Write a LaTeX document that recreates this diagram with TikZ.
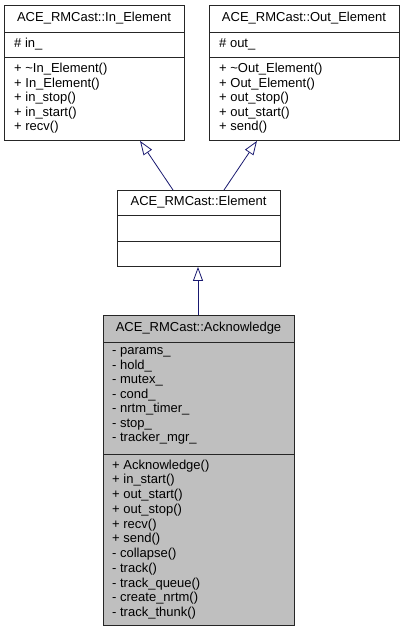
\documentclass[tikz,border=0pt]{standalone}
\usepackage{fontspec}
\setmainfont{Liberation Sans}
\usetikzlibrary{arrows.meta,calc}
\definecolor{edgeblue}{HTML}{191970}
\definecolor{ackgray}{HTML}{BFBFBF}
\begin{document}
\begin{tikzpicture}[x=1pt,y=-1pt,
  box/.style={draw=black!85,line width=0.9pt,anchor=north west,inner sep=0pt,rectangle},
  title/.style={font=\fontsize{13}{14.5}\selectfont,inner sep=0pt,anchor=center},
  memb/.style={font=\fontsize{13}{14.5}\selectfont,inner sep=0pt,anchor=west,align=left},
  divider/.style={draw=black!85,line width=0.9pt},
  inherit/.style={draw=edgeblue,line width=0.8pt,-{Triangle[open,length=14pt,width=10pt,fill=white]}}]
\useasboundingbox[fill=white] (0,0) rectangle (404,632);

% In_Element
\node[box,minimum width=180pt,minimum height=135pt] (inbox) at (4,5) {};
\draw[divider] (4,32) -- (184,32);
\draw[divider] (4,57) -- (184,57);
\node[title] (intitle) at (94,18.5) {ACE\_RMCast::In\_Element};
\node[memb] (inattr) at (14,44.5) {\# in\_};
\node[memb] (inmeth) at (14,98.5) {+ \textasciitilde In\_Element()\\+ In\_Element()\\+ in\_stop()\\+ in\_start()\\+ recv()};

% Out_Element
\node[box,minimum width=190pt,minimum height=135pt] (outbox) at (209,5) {};
\draw[divider] (209,32) -- (399,32);
\draw[divider] (209,57) -- (399,57);
\node[title] (outtitle) at (304,18.5) {ACE\_RMCast::Out\_Element};
\node[memb] (outattr) at (219,44.5) {\# out\_};
\node[memb] (outmeth) at (219,98.5) {+ \textasciitilde Out\_Element()\\+ Out\_Element()\\+ out\_stop()\\+ out\_start()\\+ send()};

% Element
\node[box,minimum width=163pt,minimum height=76pt] (elem) at (117,190) {};
\draw[divider] (117,215) -- (280,215);
\draw[divider] (117,241) -- (280,241);
\node[title] (elemtitle) at (198.5,202.5) {ACE\_RMCast::Element};

% Acknowledge
\node[box,fill=ackgray,minimum width=191pt,minimum height=310pt] (ack) at (103,315) {};
\draw[divider] (103,342) -- (294,342);
\draw[divider] (103,454) -- (294,454);
\node[title] (acktitle) at (198.5,328.5) {ACE\_RMCast::Acknowledge};
\node[memb] (ackattr) at (112,396) {- params\_\\- hold\_\\- mutex\_\\- cond\_\\- nrtm\_timer\_\\- stop\_\\- tracker\_mgr\_};
\node[memb,font=\fontsize{13}{14.75}\selectfont] (ackmeth) at (112,539.5) {+ Acknowledge()\\+ in\_start()\\+ out\_start()\\+ out\_stop()\\+ recv()\\+ send()\\- collapse()\\- track()\\- track\_queue()\\- create\_nrtm()\\- track\_thunk()};

% inheritance
\draw[inherit] ($(elem.north west)+(56,0)$) -- ($(inbox.south west)+(136,0)$);
\draw[inherit] ($(elem.north west)+(107,0)$) -- ($(outbox.south west)+(48,0)$);
\draw[inherit] ($(ack.north west)+(95,0)$) -- ($(elem.south west)+(81,0)$);
\end{tikzpicture}
\end{document}
